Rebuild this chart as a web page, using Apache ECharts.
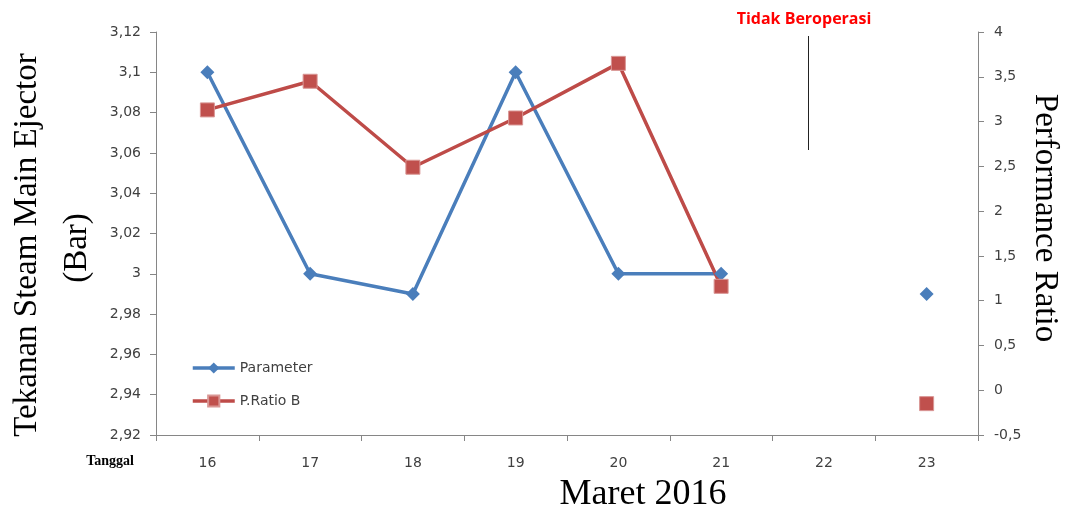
<!DOCTYPE html>
<html>
<head>
<meta charset="utf-8">
<script src="https://cdn.jsdelivr.net/npm/echarts@6/dist/echarts.min.js"></script>
<style>
  html, body { margin: 0; padding: 0; background: #fff; }
  #chart { width: 1071px; height: 514px; }
</style>
</head>
<body>
<div id="chart"></div>
<script>
// tanggal (Maret 2016)
var days = ['16', '17', '18', '19', '20', '21', '22', '23']
// tekanan steam main ejector (bar), 22 = tidak beroperasi
var parameter = [3.1, 3.0, 2.99, 3.1, 3.0, 3.0, null, 2.99]
var ratioB = [3.13, 3.45, 2.49, 3.04, 3.65, 1.16, null, -0.15]

var axisColor = '#868686'
var labelStyle = { color: '#404040', fontSize: 14, fontFamily: 'DejaVu Sans' }
var comma = function (v) { return String(+v.toFixed(2)).replace('.', ',') }

var chart = echarts.init(document.getElementById('chart'))
chart.setOption({
  animation: false,
  grid: { left: 156, right: 93, top: 32, bottom: 79 },
  legend: {
    orient: 'vertical',
    left: 186,
    top: 356,
    itemGap: 19,
    itemWidth: 42,
    itemHeight: 14,
    lineStyle: { width: 3.5 },
    textStyle: { color: '#404040', fontSize: 14, fontFamily: 'DejaVu Sans' },
    data: ['Parameter', 'P.Ratio B']
  },
  xAxis: {
    type: 'category',
    data: days,
    boundaryGap: true,
    axisLine: { onZero: false, lineStyle: { color: axisColor } },
    axisTick: { show: true, alignWithLabel: false, length: 6, lineStyle: { color: axisColor } },
    axisLabel: Object.assign({ margin: 21 }, labelStyle)
  },
  yAxis: [{
    type: 'value',
    min: 2.92,
    max: 3.12,
    interval: 0.02,
    splitLine: { show: false },
    axisLine: { show: true, lineStyle: { color: axisColor } },
    axisTick: { show: true, length: 6, lineStyle: { color: axisColor } },
    axisLabel: Object.assign({ margin: 15, formatter: comma }, labelStyle)
  }, {
    type: 'value',
    min: -0.5,
    max: 4,
    interval: 0.5,
    position: 'right',
    splitLine: { show: false },
    axisLine: { show: true, lineStyle: { color: axisColor } },
    axisTick: { show: true, length: 6, lineStyle: { color: axisColor } },
    axisLabel: Object.assign({ margin: 16, formatter: comma }, labelStyle)
  }],
  series: [{
    name: 'Parameter',
    type: 'line',
    data: parameter,
    yAxisIndex: 0,
    connectNulls: false,
    symbol: 'diamond',
    symbolSize: 14,
    showAllSymbol: true,
    lineStyle: { color: '#4a7ebb', width: 3.5 },
    itemStyle: { color: '#4a7ebb' }
  }, {
    name: 'P.Ratio B',
    type: 'line',
    data: ratioB,
    yAxisIndex: 1,
    connectNulls: false,
    symbol: 'rect',
    symbolSize: 14,
    showAllSymbol: true,
    lineStyle: { color: '#be4b48', width: 3.5 },
    itemStyle: { color: '#c0504d', borderColor: '#d99694', borderWidth: 1 }
  }],
  graphic: [{
    type: 'text',
    x: 27, y: 245, rotation: Math.PI / 2,
    style: { text: 'Tekanan Steam Main Ejector', font: '33px "Liberation Serif"', fill: '#000', align: 'center', verticalAlign: 'middle' }
  }, {
    type: 'text',
    x: 77, y: 248, rotation: Math.PI / 2,
    style: { text: '(Bar)', font: '33px "Liberation Serif"', fill: '#000', align: 'center', verticalAlign: 'middle' }
  }, {
    type: 'text',
    x: 1045, y: 218, rotation: -Math.PI / 2,
    style: { text: 'Performance Ratio', font: '33px "Liberation Serif"', fill: '#000', align: 'center', verticalAlign: 'middle' }
  }, {
    type: 'text',
    x: 643, y: 495,
    style: { text: 'Maret 2016', font: '36px "Liberation Serif"', fill: '#000', align: 'center', verticalAlign: 'middle' }
  }, {
    type: 'text',
    x: 110, y: 461,
    style: { text: 'Tanggal', font: 'bold 14px "Liberation Serif"', fill: '#000', align: 'center', verticalAlign: 'middle' }
  }, {
    type: 'text',
    x: 804, y: 19,
    style: { text: 'Tidak Beroperasi', font: 'bold 16px "Open Sans"', fill: '#ff0000', align: 'center', verticalAlign: 'middle' }
  }, {
    type: 'line',
    shape: { x1: 808.5, y1: 36, x2: 808.5, y2: 150 },
    style: { stroke: '#222', lineWidth: 1 }
  }]
})
</script>
</body>
</html>
